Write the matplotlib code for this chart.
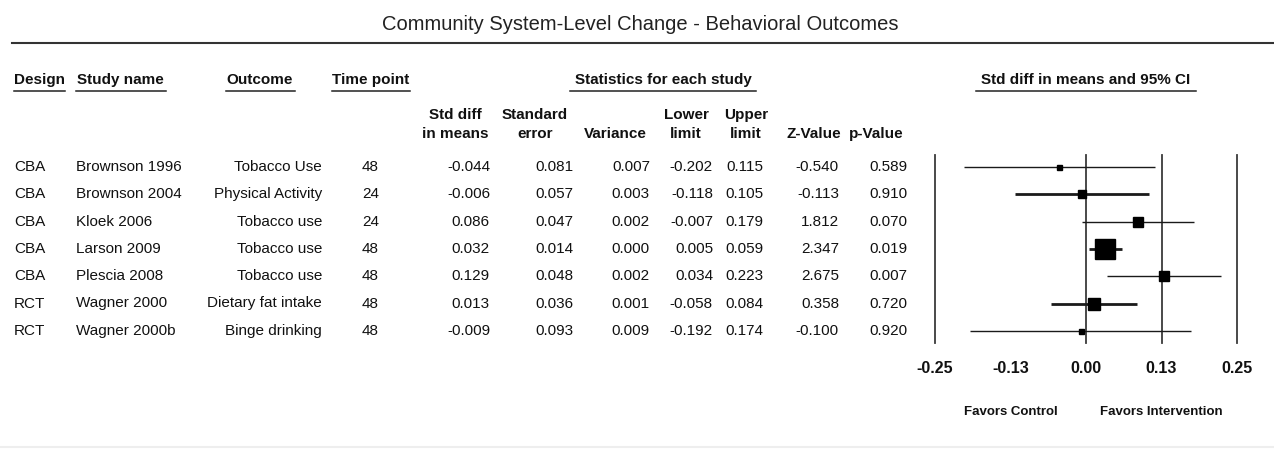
import matplotlib
matplotlib.use("Agg")
import matplotlib.pyplot as plt
from matplotlib import font_manager

# --- data ---
designs = ["CBA", "CBA", "CBA", "CBA", "CBA", "RCT", "RCT"]
studies = ["Brownson 1996", "Brownson 2004", "Kloek 2006", "Larson 2009",
           "Plescia 2008", "Wagner 2000", "Wagner 2000b"]
outcomes = ["Tobacco Use", "Physical Activity", "Tobacco use", "Tobacco use",
            "Tobacco use", "Dietary fat intake", "Binge drinking"]
time_points = ["48", "24", "24", "48", "48", "48", "48"]
std_diff = [-0.044, -0.006, 0.086, 0.032, 0.129, 0.013, -0.009]
std_err = [0.081, 0.057, 0.047, 0.014, 0.048, 0.036, 0.093]
variance = [0.007, 0.003, 0.002, 0.000, 0.002, 0.001, 0.009]
lower = [-0.202, -0.118, -0.007, 0.005, 0.034, -0.058, -0.192]
upper = [0.115, 0.105, 0.179, 0.059, 0.223, 0.084, 0.174]
z_value = [-0.540, -0.113, 1.812, 2.347, 2.675, 0.358, -0.100]
p_value = [0.589, 0.910, 0.070, 0.019, 0.007, 0.720, 0.920]

axis_ticks = [-0.25, -0.125, 0.0, 0.125, 0.25]
axis_tick_labels = ["-0.25", "-0.13", "0.00", "0.13", "0.25"]
ref_lines = [-0.25, 0.0, 0.125, 0.25]

# --- styles ---
box_sizes = [3.6, 5.8, 6.8, 15.0, 6.5, 8.6, 3.6]
whisker_widths = [1.0, 2.0, 1.0, 2.0, 1.0, 2.0, 1.0]

W, H = 1274, 455
ROW_Y0, ROW_STEP = 167, 27.3
INK = "#111111"

available = {f.name for f in font_manager.fontManager.ttflist}
BODY = ["Liberation Sans", "DejaVu Sans"]
if "Liberation Sans Narrow" in available:
    NARROW = ["Liberation Sans Narrow", "Liberation Sans"]
    head_size = 13
else:
    NARROW = ["Liberation Sans", "DejaVu Sans"]
    head_size = 11

fig = plt.figure(figsize=(W / 100, H / 100), dpi=100)
fig.patch.set_facecolor("white")

ax = fig.add_axes([0, 0, 1, 1])
ax.set_xlim(0, W)
ax.set_ylim(H, 0)
ax.axis("off")

# title and rule
ax.text(640, 25, "Community System-Level Change - Behavioral Outcomes",
        ha="center", va="center", fontsize=14.5, family=BODY, color="#222222")
ax.plot([12, W], [43, 43], color="#333333", lw=1.5)
ax.plot([0, W], [447, 447], color="#eeeeee", lw=1.5)


def header(text, x, ha, x0, x1, y=80):
    ax.text(x, y, text, ha=ha, va="center", fontsize=head_size,
            family=NARROW, weight="bold", color=INK)
    ax.plot([x0, x1], [y + 11, y + 11], color="#222222", lw=1.1)


header("Design", 14, "left", 14, 65)
header("Study name", 77, "left", 76, 166)
header("Outcome", 260, "center", 226, 295)
header("Time point", 371, "center", 332, 410)
header("Statistics for each study", 663, "center", 570, 756)
header("Std diff in means and 95% CI", 1086, "center", 976, 1196)

sub_heads = [("Std diff", "in means", 455), ("Standard", "error", 535),
             ("", "Variance", 615), ("Lower", "limit", 686),
             ("Upper", "limit", 746), ("", "Z-Value", 814), ("", "p-Value", 876)]
for l1, l2, x in sub_heads:
    for txt, y in [(l1, 115), (l2, 134)]:
        if txt:
            ax.text(x, y, txt, ha="center", va="center", fontsize=head_size,
                    family=NARROW, weight="bold", color=INK)

# table body
columns = [
    (designs, 14, "left", "{}"),
    (studies, 76, "left", "{}"),
    (outcomes, 322, "right", "{}"),
    (time_points, 362, "left", "{}"),
    (std_diff, 490, "right", "{:.3f}"),
    (std_err, 573, "right", "{:.3f}"),
    (variance, 650, "right", "{:.3f}"),
    (lower, 713, "right", "{:.3f}"),
    (upper, 763, "right", "{:.3f}"),
    (z_value, 839, "right", "{:.3f}"),
    (p_value, 907, "right", "{:.3f}"),
]
for values, x, ha, fmt in columns:
    for i, v in enumerate(values):
        ax.text(x, ROW_Y0 + i * ROW_STEP, fmt.format(v), ha=ha, va="center",
                fontsize=11, family=BODY, color=INK)

# forest plot
fx0, fx1 = 935, 1237
fy_top, fy_bot = 155, 343
axf = fig.add_axes([fx0 / W, 1 - fy_bot / H, (fx1 - fx0) / W, (fy_bot - fy_top) / H])
axf.set_xlim(-0.25, 0.25)
axf.set_ylim((fy_bot - ROW_Y0) / ROW_STEP, (fy_top - ROW_Y0) / ROW_STEP)
axf.patch.set_alpha(0)
for s in axf.spines.values():
    s.set_visible(False)
axf.set_yticks([])
for xv in ref_lines:
    axf.axvline(xv, color="#3a3a3a", lw=1.3, clip_on=False)
for i in range(len(studies)):
    axf.hlines(i, lower[i], upper[i], color="#1a1a1a", lw=whisker_widths[i])
    axf.plot(std_diff[i], i, marker="s", ms=box_sizes[i], color="black",
             mec="black", zorder=3)
axf.set_xticks(axis_ticks)
axf.set_xticklabels(axis_tick_labels, fontsize=11.5, family=BODY,
                    weight="bold", color=INK)
axf.tick_params(axis="x", length=0, pad=13)

fav_y = (fy_bot - 412) / (fy_bot - fy_top)
axf.text(-0.125, fav_y, "Favors Control", transform=axf.get_xaxis_transform(),
         ha="center", va="center", fontsize=9.5, family=BODY, weight="bold",
         color=INK)
axf.text(0.125, fav_y, "Favors Intervention", transform=axf.get_xaxis_transform(),
         ha="center", va="center", fontsize=9.5, family=BODY, weight="bold",
         color=INK)

fig.savefig("out.png", dpi=100, facecolor="white")
